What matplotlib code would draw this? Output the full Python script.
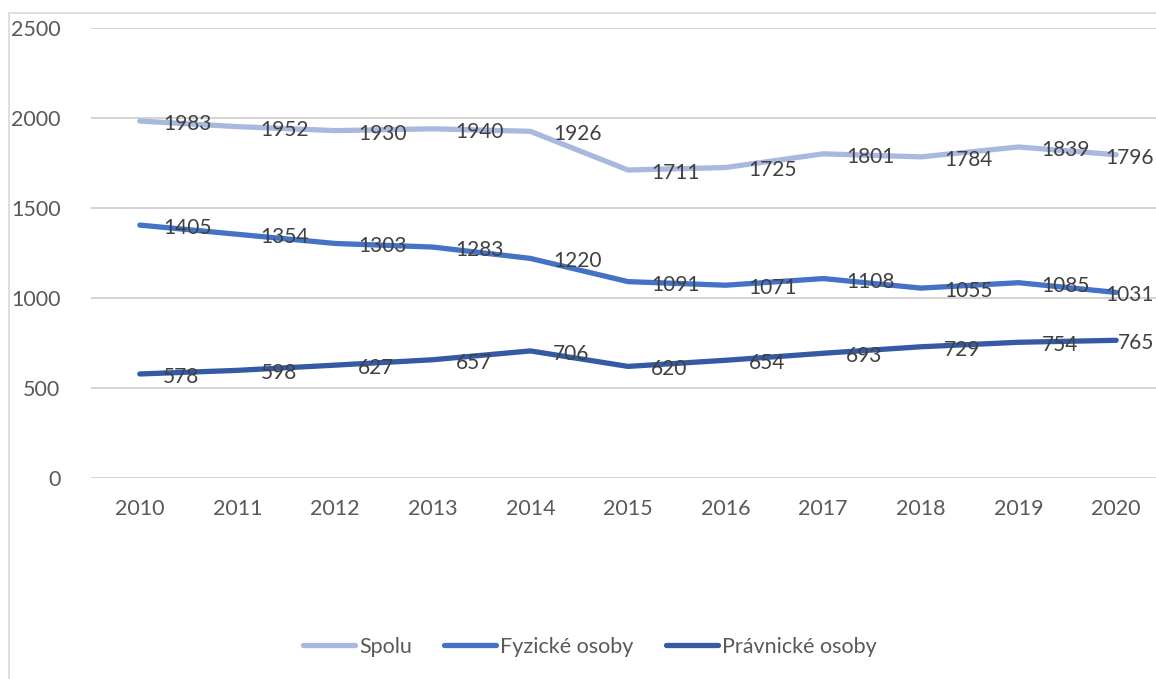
import matplotlib
matplotlib.use('Agg')
import matplotlib.pyplot as plt
from matplotlib.patches import Rectangle

# údaje
roky = ['2010', '2011', '2012', '2013', '2014', '2015', '2016', '2017', '2018', '2019', '2020']
spolu = [1983, 1952, 1930, 1940, 1926, 1711, 1725, 1801, 1784, 1839, 1796]
fyzicke = [1405, 1354, 1303, 1283, 1220, 1091, 1071, 1108, 1055, 1085, 1031]
pravnicke = [578, 598, 627, 657, 706, 620, 654, 693, 729, 754, 765]

series = [
    ('Spolu', spolu, '#a9b8de'),
    ('Fyzické osoby', fyzicke, '#4472c4'),
    ('Právnické osoby', pravnicke, '#335aa3'),
]

plt.rcParams['font.family'] = ['Lato', 'DejaVu Sans']

W, H = 1156, 679
fig = plt.figure(figsize=(W / 100, H / 100), dpi=100)

# rámček grafu (vpravo a dole mimo výrez)
fig.patches.append(Rectangle((9 / W, -0.1), 1.2, 1 - 13 / H + 0.1, transform=fig.transFigure,
                             fill=False, edgecolor='#d9d9d9', linewidth=1.2))

ax = fig.add_axes([91 / W, (H - 478) / H, 1074 / W, 450 / H])

x = list(range(len(roky)))
for name, vals, col in series:
    ax.plot(x, vals, color=col, linewidth=3.8, solid_capstyle='round',
            solid_joinstyle='round', label=name, zorder=3)

# popisky hodnôt
for name, vals, col in series:
    for i, v in enumerate(vals):
        if i == len(vals) - 1:
            ax.annotate(str(v), (i, v), xytext=(38, -3), textcoords='offset pixels',
                        ha='right', va='center', fontsize=15, color='#404040',
                        zorder=5, annotation_clip=False)
        else:
            ax.annotate(str(v), (i, v), xytext=(23, -3), textcoords='offset pixels',
                        ha='left', va='center', fontsize=15, color='#404040', zorder=5)

ax.set_xlim(-0.5, len(roky) - 0.5)
ax.set_ylim(0, 2500)
ax.set_yticks([0, 500, 1000, 1500, 2000, 2500])
ax.set_xticks(x)
ax.set_xticklabels(roky)
ax.tick_params(length=0, labelsize=15.5, labelcolor='#595959')
ax.tick_params(axis='y', pad=22)
ax.tick_params(axis='x', pad=15)
ax.grid(axis='y', color='#d4d4d4', linewidth=1.4)
ax.set_axisbelow(True)
for s in ax.spines.values():
    s.set_visible(False)

fig.legend(loc='center', bbox_to_anchor=(590 / W, 1 - 647 / H), ncol=3, frameon=False,
           fontsize=15.5, labelcolor='#595959', handlelength=2.4, handletextpad=0.2,
           columnspacing=1.5)

fig.savefig('out.png', dpi=100)
